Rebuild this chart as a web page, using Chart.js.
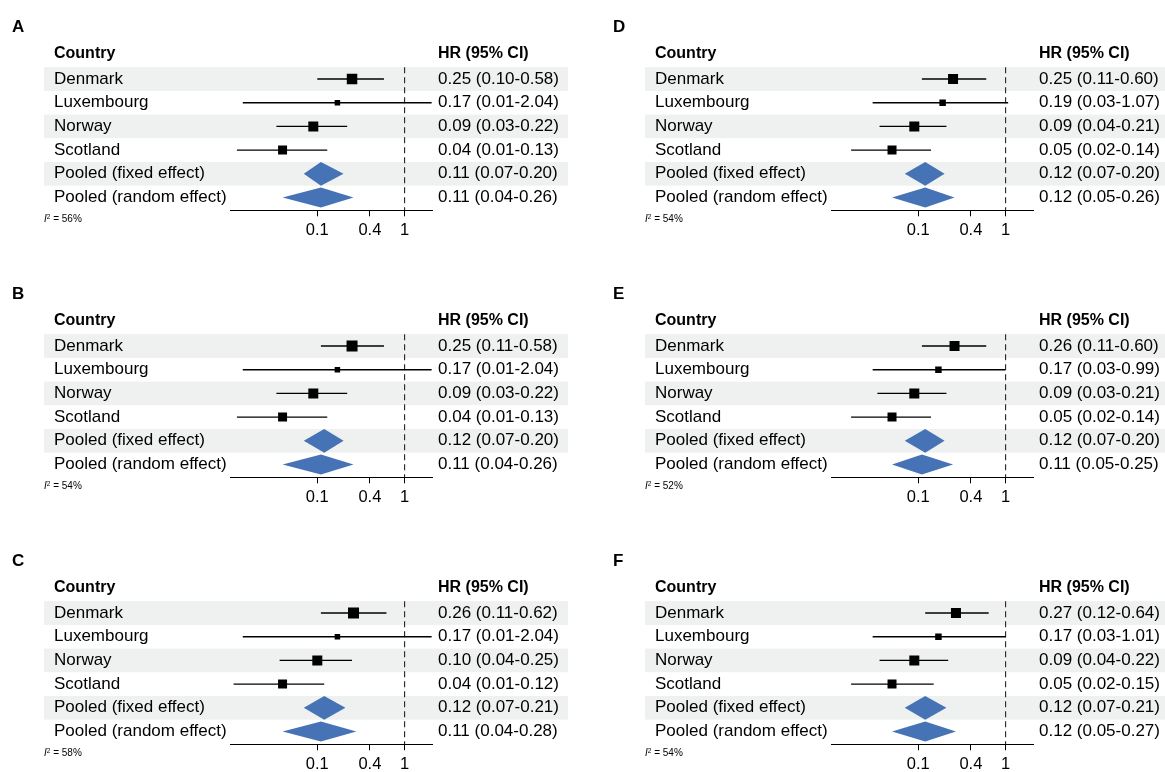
<!DOCTYPE html>
<html>
<head>
<meta charset="utf-8">
<script src="https://cdn.jsdelivr.net/npm/chart.js@4.4.0/dist/chart.umd.min.js"></script>
<style>
  html, body { margin: 0; padding: 0; background: #fff; overflow: hidden; }
  #page { position: relative; width: 1165px; height: 772px; overflow: hidden;
          font-family: "Liberation Sans", Arial, sans-serif; color: #000; }
  .panel { position: absolute; width: 580px; height: 267px; }
  .panel canvas { position: absolute; left: 0; top: 0; }
  .tag { position: absolute; left: 12px; top: 19px; font-weight: bold; font-size: 17px; line-height: 16px; }
  .i2 { position: absolute; left: 44px; top: 214px; font-size: 10px; line-height: 9px; white-space: nowrap; }
  .i2 sup { font-size: 6.5px; vertical-align: 3px; line-height: 0; }
</style>
</head>
<body>
<div id="page"></div>
<script>
const countries = ["Denmark", "Luxembourg", "Norway", "Scotland", "Pooled (fixed effect)", "Pooled (random effect)"];
const panelNames = ["A", "B", "C", "D", "E", "F"];
const xTicks = [0.1, 0.4, 1];

const hrA = [0.25, 0.17, 0.09, 0.04, 0.11, 0.11];
const loA = [0.10, 0.014, 0.034, 0.012, 0.07, 0.04];
const hiA = [0.58, 2.04, 0.22, 0.13, 0.20, 0.26];

const hrB = [0.25, 0.17, 0.09, 0.04, 0.12, 0.11];
const loB = [0.11, 0.014, 0.034, 0.012, 0.07, 0.04];
const hiB = [0.58, 2.04, 0.22, 0.13, 0.20, 0.26];

const hrC = [0.26, 0.17, 0.10, 0.04, 0.12, 0.11];
const loC = [0.11, 0.014, 0.037, 0.011, 0.07, 0.04];
const hiC = [0.62, 2.04, 0.25, 0.12, 0.21, 0.28];

const hrD = [0.25, 0.19, 0.09, 0.05, 0.12, 0.12];
const loD = [0.11, 0.03, 0.036, 0.017, 0.07, 0.05];
const hiD = [0.60, 1.07, 0.21, 0.14, 0.20, 0.26];

const hrE = [0.26, 0.17, 0.09, 0.05, 0.12, 0.11];
const loE = [0.11, 0.03, 0.034, 0.017, 0.07, 0.05];
const hiE = [0.60, 0.99, 0.21, 0.14, 0.20, 0.25];

const hrF = [0.27, 0.17, 0.09, 0.05, 0.12, 0.12];
const loF = [0.12, 0.03, 0.036, 0.017, 0.07, 0.05];
const hiF = [0.64, 1.01, 0.22, 0.15, 0.21, 0.27];

const i2Values = [56, 54, 58, 54, 52, 54];

// layout / style
const panelData = [[hrA, loA, hiA], [hrB, loB, hiB], [hrC, loC, hiC], [hrD, loD, hiD], [hrE, loE, hiE], [hrF, loF, hiF]];
const panelLeft = [0, 0, 0, 601, 601, 601];
const panelTop = [0, 267, 534, 0, 267, 534];
const boxSides = [[10.5, 5.5, 10, 9], [11, 5.5, 10, 9], [11, 5.5, 10, 9], [10, 6.5, 10, 9], [10, 6.5, 10, 9], [10, 6.5, 10, 9]];
const rowPos = [-1.08, 0, 1, 2, 3, 4, 5];
const yTop = -1.6, yBottom = 5.54;
const diamondBlue = "#4673b5";
const bandColor = "#eef1ef";

Chart.defaults.font.family = '"Liberation Sans", Arial, sans-serif';
Chart.defaults.color = "#000";

const bandPlugin = {
  id: "bands",
  beforeDraw(chart) {
    const y = chart.scales.y;
    const ctx = chart.ctx;
    ctx.save();
    ctx.fillStyle = bandColor;
    [0, 2, 4].forEach(i => {
      const top = y.getPixelForValue(i - 0.5);
      const bottom = y.getPixelForValue(i + 0.5);
      ctx.fillRect(44, top, 524, bottom - top);
    });
    ctx.restore();
  }
};

function fmt(hr, lo, hi, i) {
  return hr[i].toFixed(2) + " (" + lo[i].toFixed(2) + "-" + hi[i].toFixed(2) + ")";
}

function tickFont(c) {
  return c.index === 0 ? { size: 16, weight: "bold" } : { size: 17 };
}

function makePanel(k) {
  const [hr, lo, hi] = panelData[k];
  const page = document.getElementById("page");
  const box = document.createElement("div");
  box.className = "panel";
  box.style.left = panelLeft[k] + "px";
  box.style.top = panelTop[k] + "px";
  box.innerHTML = `
    <canvas width="580" height="267"></canvas>
    <div class="tag">${panelNames[k]}</div>
    <div class="i2"><i>I</i><sup>2</sup> = ${i2Values[k]}%</div>
  `;
  page.appendChild(box);

  const leftLabels = ["Country"].concat(countries);
  const rightLabels = ["HR (95% CI)"].concat(countries.map((c, i) => fmt(hr, lo, hi, i)));

  const datasets = [];
  datasets.push({
    type: "line",
    data: [{ x: 1, y: -0.5 }, { x: 1, y: yBottom }],
    borderColor: "#222",
    borderWidth: 1.1,
    borderDash: [6, 4],
    pointRadius: 0,
    order: 3
  });
  for (let i = 0; i < 4; i++) {
    datasets.push({
      type: "line",
      data: [{ x: lo[i], y: i }, { x: hi[i], y: i }],
      borderColor: "#000",
      borderWidth: 1.4,
      pointRadius: 0,
      order: 2
    });
  }
  [4, 5].forEach(i => {
    const h = i === 4 ? 0.5 : 0.42;
    datasets.push({
      type: "line",
      data: [
        { x: lo[i], y: i },
        { x: hr[i], y: i - h },
        { x: hi[i], y: i },
        { x: hr[i], y: i + h },
        { x: lo[i], y: i }
      ],
      fill: "shape",
      backgroundColor: diamondBlue,
      borderColor: "rgba(0,0,0,0)",
      borderWidth: 1,
      pointRadius: 0,
      order: 1
    });
  });
  datasets.push({
    type: "scatter",
    data: [0, 1, 2, 3].map(i => ({ x: hr[i], y: i })),
    pointStyle: "rect",
    pointRadius: boxSides[k].map(s => s / Math.SQRT2),
    backgroundColor: "#000",
    borderWidth: 0,
    order: 0
  });

  const yCommon = {
    type: "linear",
    reverse: true,
    min: yTop,
    max: yBottom,
    bounds: "data",
    afterBuildTicks: s => { s.ticks = rowPos.map(v => ({ value: v })); },
    grid: { display: false, drawTicks: false },
    border: { display: false }
  };

  new Chart(box.querySelector("canvas"), {
    type: "line",
    data: { datasets: datasets },
    options: {
      responsive: false,
      animation: false,
      events: [],
      layout: { padding: { left: 54, right: 0, top: 41.1, bottom: 16.7 } },
      plugins: { legend: { display: false }, tooltip: { enabled: false } },
      scales: {
        x: {
          type: "logarithmic",
          position: "bottom",
          min: 0.01,
          max: 2.06,
          bounds: "data",
          afterBuildTicks: s => { s.ticks = xTicks.map(v => ({ value: v })); },
          afterFit: s => { s.height = 40; },
          grid: { display: true, drawOnChartArea: false, drawTicks: true, tickLength: 6, color: "#000", lineWidth: 1 },
          border: { display: true, color: "#000", width: 1 },
          ticks: { padding: 4, font: { size: 16.5 }, color: "#000", autoSkip: false, maxRotation: 0, callback: v => String(v) }
        },
        y: Object.assign({}, yCommon, {
          position: "left",
          afterFit: s => { s.width = 176; },
          ticks: { crossAlign: "far", padding: 0, autoSkip: false, color: "#000", font: tickFont, callback: (v, i) => leftLabels[i] }
        }),
        yr: Object.assign({}, yCommon, {
          position: "right",
          afterFit: s => { s.width = 148; },
          ticks: { crossAlign: "near", padding: 6, autoSkip: false, color: "#000", font: tickFont, callback: (v, i) => rightLabels[i] }
        })
      }
    },
    plugins: [bandPlugin]
  });
}

window.onload = function () {
  for (let k = 0; k < 6; k++) makePanel(k);
};
</script>
</body>
</html>
